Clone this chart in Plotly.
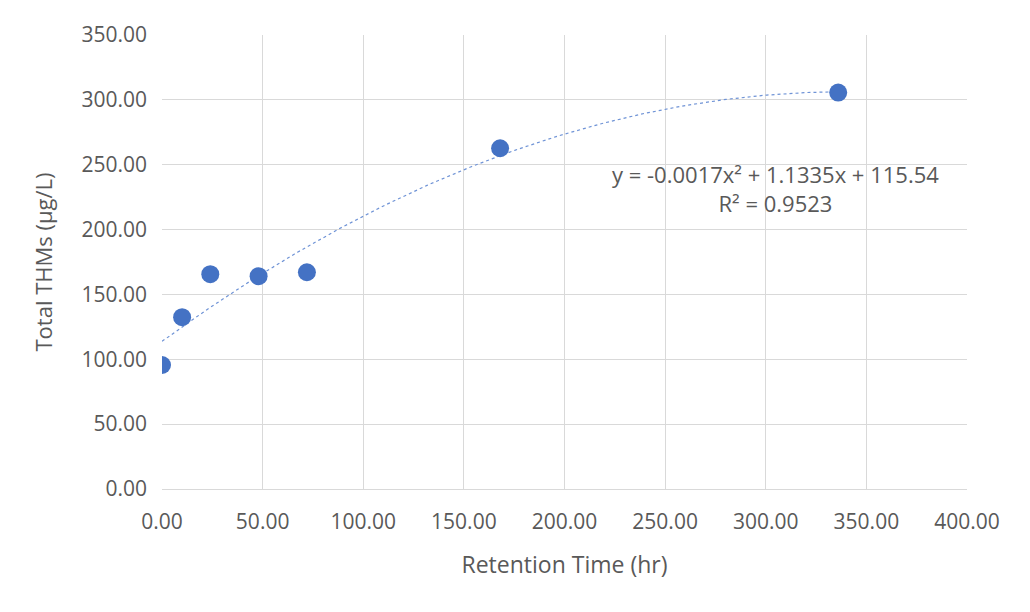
import numpy as np
import plotly.graph_objects as go

# Retention time (hr) vs total THMs (ug/L)
retention_time = [0, 10, 24, 48, 72, 168, 336]
total_thms = [95.6, 132.5, 165.6, 164.1, 167.1, 262.7, 305.6]

# second-order polynomial trendline fitted to the points
coef = np.polyfit(retention_time, total_thms, 2)
x_fit = np.linspace(min(retention_time), max(retention_time), 200)
y_fit = np.polyval(coef, x_fit)

blue = '#4472C4'
grid = '#D9D9D9'
text_col = '#595959'

fig = go.Figure()

fig.add_trace(go.Scatter(
    x=x_fit, y=y_fit,
    mode='lines',
    line=dict(color='#6F93D6', width=1.2, dash='dot'),
    hoverinfo='skip',
    showlegend=False
))

fig.add_trace(go.Scatter(
    x=retention_time, y=total_thms,
    mode='markers',
    marker=dict(color=blue, size=18),
    showlegend=False
))

fig.add_annotation(
    x=304.6, y=232, xref='x', yref='y',
    text='y = -0.0017x² + 1.1335x + 115.54<br>R² = 0.9523',
    showarrow=False,
    align='center',
    font=dict(size=22, color=text_col)
)

fig.update_layout(
    width=1030, height=612,
    margin=dict(l=154, r=71, t=16, b=131),
    plot_bgcolor='white',
    paper_bgcolor='white',
    font=dict(family='Open Sans', size=21, color=text_col),
    xaxis=dict(
        range=[0, 400], dtick=50, tickformat='.2f',
        showgrid=True, gridcolor=grid, gridwidth=1.3,
        zeroline=False, showline=True, linecolor=grid, linewidth=1.3,
        ticks='', ticklabelstandoff=14,
        title=dict(text='Retention Time (hr)', font=dict(size=23, color=text_col), standoff=22),
        tickfont=dict(size=21, color=text_col)
    ),
    yaxis=dict(
        range=[0, 350], dtick=50, tickformat='.2f',
        showgrid=True, gridcolor=grid, gridwidth=1.3,
        zeroline=False, showline=False,
        ticks='', ticklabelstandoff=14,
        title=dict(text='Total THMs (µg/L)', font=dict(size=22, color=text_col), standoff=22),
        tickfont=dict(size=21, color=text_col)
    )
)

fig.write_html('out.html')
